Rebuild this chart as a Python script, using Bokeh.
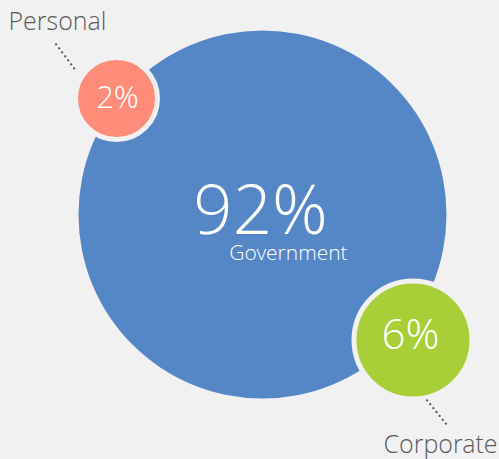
from bokeh.plotting import figure
from bokeh.models import ColumnDataSource, Range1d
from bokeh.embed import file_html
from bokeh.resources import INLINE
from bokeh.core.properties import value

# ---- data ----
categories = ["Government", "Corporate", "Personal"]
shares = [92, 6, 2]
colors = ["#5587c7", "#a8cf38", "#fe8c78"]

# ---- layout (pixel space, y measured from bottom) ----
W, H = 499, 459
cx = [262, 412.5, 116]
cy = [245, 119.5, 361]
radius = [184, 56.5, 38.5]
ring = [0, 5, 5]
BG = "#f1f1f1"
FONT = value("Open Sans Light, Lato Light")
K = 0.37  # baseline compensation

p = figure(width=W, height=H, output_backend="svg", toolbar_location=None,
           x_range=Range1d(0, W), y_range=Range1d(0, H),
           x_axis_type=None, y_axis_type=None, min_border=0,
           background_fill_color=BG, border_fill_color=BG, outline_line_color=None)
p.grid.visible = False

src = ColumnDataSource(dict(
    x=cx, y=cy, r=[rr + rg / 2 for rr, rg in zip(radius, ring)],
    lw=ring, color=colors,
    label=[f"{v}%" for v in shares], cat=categories,
))
p.circle(x="x", y="y", radius="r", fill_color="color", line_color=BG,
         line_width="lw", source=src)

def txt(x, y, s, size, color, align):
    p.text(x=[x], y=[y + K * size], text=[s], text_font_size=f"{size}px",
           text_color=color, text_font=FONT, text_baseline="alphabetic",
           text_align=align)

# percentage labels
txt(260, 227, f"{shares[0]}%", 69, "white", "center")
txt(288, 200, categories[0], 21, "white", "center")
txt(410, 111, f"{shares[1]}%", 42, "white", "center")
txt(117, 352, f"{shares[2]}%", 31, "white", "center")

# outside labels
txt(8, 430, categories[2], 25, "#5a5a5a", "left")
txt(497, 7, categories[1], 25, "#5a5a5a", "right")

# dotted leader lines
p.segment(x0=[55, 426], y0=[416, 60], x1=[76, 446], y1=[388, 35],
          line_color="#555555", line_width=2, line_dash="2 3")

html = file_html(p, INLINE)
html = html.replace("</head>", "<style>html,body{margin:0;padding:0;background:%s;overflow:hidden}</style></head>" % BG, 1)
open("out.html", "w").write(html)
